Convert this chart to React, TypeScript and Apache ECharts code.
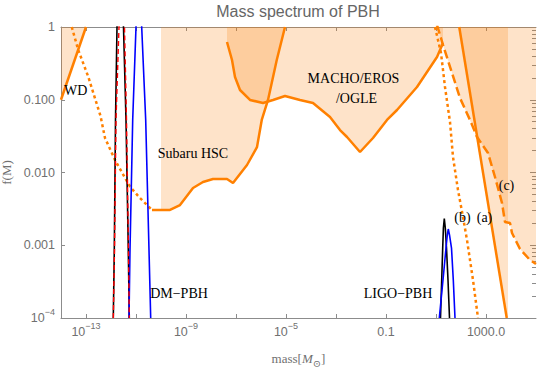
import React, { useEffect, useRef } from 'react';
import * as echarts from 'echarts';

// All pairs are [log10(mass / M_sun), log10 f(M)].
const xTickExps = [-13, -11, -9, -7, -5, -3, -1, 1, 3];
const xLabelExps = [-13, -9, -5, -1, 3];
const xLabelText: Record<string, string> = {
  '-13': '{b|10}{s|−13}',
  '-9': '{b|10}{s|−9}',
  '-5': '{b|10}{s|−5}',
  '-1': '{b|0.1}',
  '3': '{b|1000.0}',
};
const yLabelText: Record<string, string> = {
  '0': '{b|1}',
  '-1': '{b|0.100}',
  '-2': '{b|0.010}',
  '-3': '{b|0.001}',
  '-4': '{b|10}{s|−4}',
};
const yMinorTicks = [
  -3.699, -3.523, -3.398, -3.301, -3.222, -3.155, -3.097, -3.046,
  -2.699, -2.523, -2.398, -2.301, -2.222, -2.155, -2.097, -2.046,
  -1.699, -1.523, -1.398, -1.301, -1.222, -1.155, -1.097, -1.046,
  -0.699, -0.523, -0.398, -0.301, -0.222, -0.155, -0.097, -0.046,
];

const wdLine = [[-14, -1.0], [-13, 0]];
const wdDotted = [
  [-13.57, 0], [-13.31, -0.316], [-12.91, -0.683], [-12.42, -1.223], [-12.24, -1.526],
  [-11.84, -1.828], [-11.24, -2.195], [-10.84, -2.351], [-10.44, -2.488], [-10.36, -2.515],
];
const subaruLine = [
  [-10.36, -2.515], [-9.64, -2.515], [-9.24, -2.447], [-8.72, -2.213], [-8.32, -2.131],
  [-7.92, -2.09], [-7.36, -2.09], [-7.12, -2.144], [-6.56, -1.897], [-6.16, -1.65],
  [-5.97, -1.278], [-5.72, -1.003], [-5.37, -0.454], [-5.04, 0],
];
const subaruFillStart = [-10, -2.515];
const machoLine = [
  [-7.36, -0.206], [-7.16, -0.454], [-7.04, -0.687], [-6.84, -0.866], [-6.44, -1.003],
  [-5.92, -1.045], [-5.52, -1.003], [-5.04, -0.948], [-4.44, -1.003], [-3.92, -1.045],
  [-3.24, -1.237], [-2.84, -1.416], [-2.56, -1.512], [-2.04, -1.718], [-1.52, -1.526],
  [-0.96, -1.278], [-0.56, -1.141], [0.24, -0.825], [1.04, -0.412], [1.28, -0.22],
];
const curveA = [[1.93, 0], [3.83, -4]];
const curveAEdge = [3.88, -4];
const curveB = [
  [0.96, 0], [1.2, -0.357], [1.36, -0.825], [1.56, -1.306], [1.68, -1.787],
  [1.88, -2.241], [2.08, -2.612], [2.24, -2.928], [2.48, -3.478], [2.68, -4],
];
const curveC = [
  [1.04, 0.027], [1.28, -0.247], [1.64, -0.632], [1.96, -0.976], [2.36, -1.278],
  [2.64, -1.512], [3.08, -1.732], [3.36, -2.062], [3.64, -2.419], [3.76, -2.68],
  [3.96, -2.694], [4.04, -2.832], [4.36, -3.052], [4.76, -3.203], [5.0, -3.258],
];
const dmBlack = [
  [-11.908, -4], [-11.868, -3.065], [-11.82, -1.278], [-11.76, 0], [-11.628, 0.8],
  [-11.5, 0], [-11.4, -1.278], [-11.308, -3.065], [-11.268, -4],
];
const dmRed = [
  [-11.908, -4], [-11.86, -3.065], [-11.8, -1.278], [-11.68, 0], [-11.6, 0.8],
  [-11.46, 0], [-11.38, -1.278], [-11.3, -3.065], [-11.268, -4],
];
const dmBlue = [
  [-11.28, -4], [-11.24, -3.065], [-11.132, -1.278], [-11.0, 0], [-10.88, 0.6],
  [-10.772, 0], [-10.612, -1.278], [-10.48, -3.065], [-10.412, -4],
];
const ligoBlack = [
  [1.18, -4], [1.228, -3.478], [1.268, -3.038], [1.296, -2.763], [1.332, -2.632],
  [1.372, -2.763], [1.42, -3.038], [1.48, -3.478], [1.54, -4],
];
const ligoBlue = [
  [1.132, -4], [1.28, -3.478], [1.4, -3.038], [1.452, -2.859], [1.492, -2.777],
  [1.54, -2.859], [1.62, -3.038], [1.692, -3.478], [1.76, -4],
];

const annotations = [
  { text: 'WD', x: 64, y: 90, align: 'left' },
  { text: 'Subaru HSC', x: 193, y: 153, align: 'center' },
  { text: 'MACHO/EROS', x: 353.5, y: 78, align: 'center' },
  { text: '/OGLE', x: 356.5, y: 98, align: 'center' },
  { text: '(b)', x: 462.5, y: 217, align: 'center' },
  { text: '(a)', x: 484.5, y: 217, align: 'center' },
  { text: '(c)', x: 506.5, y: 185, align: 'center' },
  { text: 'DM−PBH', x: 179, y: 293, align: 'center' },
  { text: 'LIGO−PBH', x: 398, y: 293, align: 'center' },
];

const ORANGE = '#ff8000';
const FILL = 'rgba(251,124,0,0.21)';
const AXIS = '#8c8c8c';
const LABEL = '#707070';
const SANS = '"Liberation Sans", Arial, sans-serif';
const SERIF = '"Liberation Serif", "DejaVu Serif", serif';

const tickRich = {
  b: { fontSize: 12.5, fontFamily: SANS, color: LABEL, lineHeight: 22 },
  s: { fontSize: 9, fontFamily: SANS, color: LABEL, lineHeight: 8, verticalAlign: 'top' },
};

const fill = (data: number[][]) => ({
  type: 'line', data, symbol: 'none', silent: true, z: 1,
  lineStyle: { width: 0 },
  areaStyle: { origin: 'end', color: FILL, opacity: 1 },
});
const line = (data: number[][], color: string, width: number, type: any = 'solid', z = 3) => ({
  type: 'line', data, symbol: 'none', silent: true, z,
  lineStyle: { color, width, type, cap: 'butt' },
});

export default function App() {
  const ref = useRef<HTMLDivElement>(null);
  useEffect(() => {
    if (!ref.current) return;
    const chart = echarts.init(ref.current, undefined, { renderer: 'svg' });
    chart.setOption({
      animation: false,
      grid: { left: 61, right: 4, top: 27, bottom: 50, containLabel: false, outerBoundsMode: 'none' },
      xAxis: [
        {
          type: 'value', min: -14, max: 5, interval: 1, position: 'bottom',
          axisLine: { show: true, onZero: false, lineStyle: { color: AXIS } },
          axisTick: { show: true, inside: true, length: 4, customValues: xTickExps, lineStyle: { color: AXIS } },
          axisLabel: {
            customValues: xLabelExps, margin: 3,
            formatter: (v: number) => xLabelText[String(v)] ?? '',
            rich: tickRich,
          },
          splitLine: { show: false },
          name: '{n|mass[}{i|M}{o|⊙}{n|]}',
          nameLocation: 'middle', nameGap: 30,
          nameTextStyle: {
            rich: {
              n: { fontSize: 13, fontFamily: SERIF, color: LABEL, lineHeight: 20 },
              i: { fontSize: 13, fontFamily: SERIF, color: LABEL, lineHeight: 20, fontStyle: 'italic' },
              o: { fontSize: 10, fontFamily: SERIF, color: LABEL, lineHeight: 8, verticalAlign: 'bottom' },
            },
          },
        },
        {
          type: 'value', min: -14, max: 5, interval: 1, position: 'top',
          axisLine: { show: true, onZero: false, lineStyle: { color: AXIS } },
          axisTick: { show: true, inside: true, length: 4, customValues: xTickExps, lineStyle: { color: AXIS } },
          axisLabel: { show: false },
          splitLine: { show: false },
        },
      ],
      yAxis: [
        {
          type: 'value', min: -4, max: 0, interval: 1, position: 'left',
          axisLine: { show: true, onZero: false, lineStyle: { color: AXIS } },
          axisTick: { show: true, inside: true, length: 4, lineStyle: { color: AXIS } },
          axisLabel: {
            margin: 6,
            formatter: (v: number) => yLabelText[String(v)] ?? '',
            rich: tickRich,
          },
          splitLine: { show: false },
          name: 'f(M)', nameLocation: 'middle', nameGap: 40,
          nameTextStyle: { fontSize: 13, fontFamily: SERIF, color: LABEL },
        },
        {
          type: 'value', min: -4, max: 0, interval: 1, position: 'right',
          axisLine: { show: false, onZero: false },
          axisTick: { show: true, inside: true, length: 6, lineStyle: { color: AXIS } },
          axisLabel: { show: false },
          splitLine: { show: false },
        },
        {
          type: 'value', min: -4, max: 0, interval: 1, position: 'right',
          axisLine: { show: false, onZero: false },
          axisTick: { show: true, inside: true, length: 4, customValues: yMinorTicks, lineStyle: { color: AXIS } },
          axisLabel: { show: false },
          splitLine: { show: false },
        },
      ],
      series: [
        fill(wdLine),
        fill([subaruFillStart, ...subaruLine.slice(1)]),
        fill(machoLine),
        fill([...curveA, curveAEdge]),
        fill(curveC),
        line(wdLine, ORANGE, 2.5),
        line(wdDotted, ORANGE, 2.5, [3, 3]),
        line(subaruLine, ORANGE, 2.5),
        line(machoLine, ORANGE, 2.5),
        line(curveA, ORANGE, 2.5),
        line(curveB, ORANGE, 2.5, [3, 3]),
        line(curveC, ORANGE, 2.5, [9, 4]),
        line(dmBlack, '#000000', 1.6),
        line(dmRed, '#ff0000', 1.4, [5, 3], 4),
        line(dmBlue, '#0000ff', 1.6),
        line(ligoBlack, '#000000', 1.6),
        line(ligoBlue, '#0000ff', 1.6),
      ],
      graphic: [
        {
          type: 'text', x: 298, y: 11,
          style: {
            text: 'Mass spectrum of PBH', fill: '#666666',
            font: `16px ${SANS}`, align: 'center', verticalAlign: 'middle',
          },
        },
        ...annotations.map((a) => ({
          type: 'text', x: a.x, y: a.y, z: 10,
          style: {
            text: a.text, fill: '#000000',
            font: `14px ${SERIF}`, align: a.align, verticalAlign: 'middle',
          },
        })),
      ],
    });
    return () => chart.dispose();
  }, []);
  return <div ref={ref} style={{ width: 540, height: 368, position: 'absolute', left: 0, top: 0 }} />;
}
